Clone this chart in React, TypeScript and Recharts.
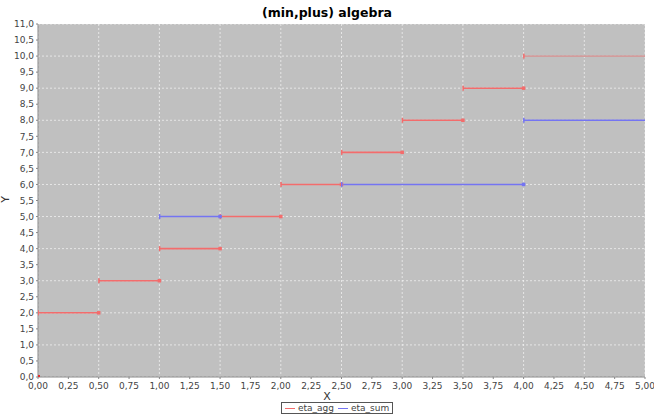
import React from 'react'
import { ComposedChart, Line, XAxis, YAxis, CartesianGrid } from 'recharts'

// eta_agg step segments
const aggStarts = [0, 0.5, 1.0, 1.5, 2.0, 2.5, 3.0, 3.5, 4.0]
const aggEnds = [0.5, 1.0, 1.5, 2.0, 2.5, 3.0, 3.5, 4.0, 5.0]
const aggValues = [2, 3, 4, 5, 6, 7, 8, 9, 10]
const aggOrigin = [{ x: 0, y: 0 }]

// eta_sum step segments
const sumStarts = [1.0, 2.5, 4.0]
const sumEnds = [1.5, 4.0, 5.0]
const sumValues = [5, 6, 8]

const xTicks = [0, 0.25, 0.5, 0.75, 1, 1.25, 1.5, 1.75, 2, 2.25, 2.5, 2.75, 3, 3.25, 3.5, 3.75, 4, 4.25, 4.5, 4.75, 5]
const yTicks = [0, 0.5, 1, 1.5, 2, 2.5, 3, 3.5, 4, 4.5, 5, 5.5, 6, 6.5, 7, 7.5, 8, 8.5, 9, 9.5, 10, 10.5, 11]

const RED = '#f36c6c'
const FADED_RED = '#d29c9c'
const BLUE = '#7474f2'
const FONT = '"DejaVu Sans", sans-serif'

const toSegments = (starts: number[], ends: number[], values: number[]) =>
  starts.map((s, i) => [
    { x: s, y: values[i] },
    { x: ends[i], y: values[i] },
  ])

const aggSegments = toSegments(aggStarts, aggEnds, aggValues)
const sumSegments = toSegments(sumStarts, sumEnds, sumValues)

const stepDot = (color: string) => (props: any) => {
  const { cx, cy, index, payload } = props
  if (cx == null || cy == null) return <g key={`d-${index}`} />
  if (index === 0) {
    return <rect key={`d-${index}`} x={cx - 0.5} y={cy - 2.5} width={1.5} height={5} fill={color} />
  }
  if (payload.x >= 5) return <g key={`d-${index}`} />
  return <rect key={`d-${index}`} x={cx - 1.75} y={cy - 1.75} width={3.5} height={3.5} fill={color} />
}

const fmt = (d: number) => (v: number) => v.toFixed(d).replace('.', ',')

export default function App() {
  return (
    <div style={{ position: 'absolute', left: 0, top: 0, width: 654, height: 416, background: '#fff', fontFamily: FONT }}>
      <div style={{ position: 'absolute', top: 5, width: 654, textAlign: 'center', fontSize: 12.5, fontWeight: 'bold', color: '#000' }}>
        (min,plus) algebra
      </div>
      <ComposedChart width={654} height={416} margin={{ top: 24, right: 9, bottom: 25, left: 4 }}>
        <CartesianGrid fill="#c0c0c0" stroke="#ffffff" strokeDasharray="2 2" strokeOpacity={0.6} />
        <XAxis
          type="number"
          dataKey="x"
          domain={[0, 5]}
          ticks={xTicks}
          tickFormatter={fmt(2)}
          allowDataOverflow
          height={14}
          tick={{ fontSize: 9, fill: '#444', fontFamily: FONT }}
          tickSize={2}
          tickMargin={4}
          stroke="#888"
        />
        <YAxis
          type="number"
          dataKey="y"
          domain={[0, 11]}
          ticks={yTicks}
          tickFormatter={fmt(1)}
          allowDataOverflow
          width={34}
          tick={{ fontSize: 9, fill: '#444', fontFamily: FONT }}
          tickSize={2}
          tickMargin={2}
          stroke="#888"
        />
        {aggSegments.map((seg, i) => (
          <Line
            key={`agg-${i}`}
            data={seg}
            dataKey="y"
            stroke={aggValues[i] === 10 ? FADED_RED : RED}
            strokeWidth={1.6}
            dot={stepDot(RED)}
            activeDot={false}
            isAnimationActive={false}
          />
        ))}
        {sumSegments.map((seg, i) => (
          <Line
            key={`sum-${i}`}
            data={seg}
            dataKey="y"
            stroke={BLUE}
            strokeWidth={1.6}
            dot={stepDot(BLUE)}
            activeDot={false}
            isAnimationActive={false}
          />
        ))}
        <Line
          data={aggOrigin}
          dataKey="y"
          stroke={RED}
          dot={(p: any) => <rect key="o" x={p.cx - 1} y={p.cy - 2} width={3} height={3} fill="#e03030" />}
          isAnimationActive={false}
        />
      </ComposedChart>
      <div style={{ position: 'absolute', left: 0, top: 390, width: 654, textAlign: 'center', fontSize: 11, color: '#333' }}>X</div>
      <div style={{ position: 'absolute', left: 2, top: 193, fontSize: 11, color: '#333', transform: 'rotate(-90deg)' }}>Y</div>
      <div
        style={{
          position: 'absolute', left: 281, top: 402, height: 12, padding: '0 3px', border: '1px solid #555',
          display: 'flex', alignItems: 'center', fontSize: 9, color: '#444', background: '#fff', boxSizing: 'border-box',
        }}
      >
        <span style={{ display: 'inline-block', width: 10, height: 1, background: RED, marginRight: 3 }} />
        <span style={{ marginRight: 4 }}>eta_agg</span>
        <span style={{ display: 'inline-block', width: 10, height: 1, background: BLUE, marginRight: 3 }} />
        <span>eta_sum</span>
      </div>
    </div>
  )
}
